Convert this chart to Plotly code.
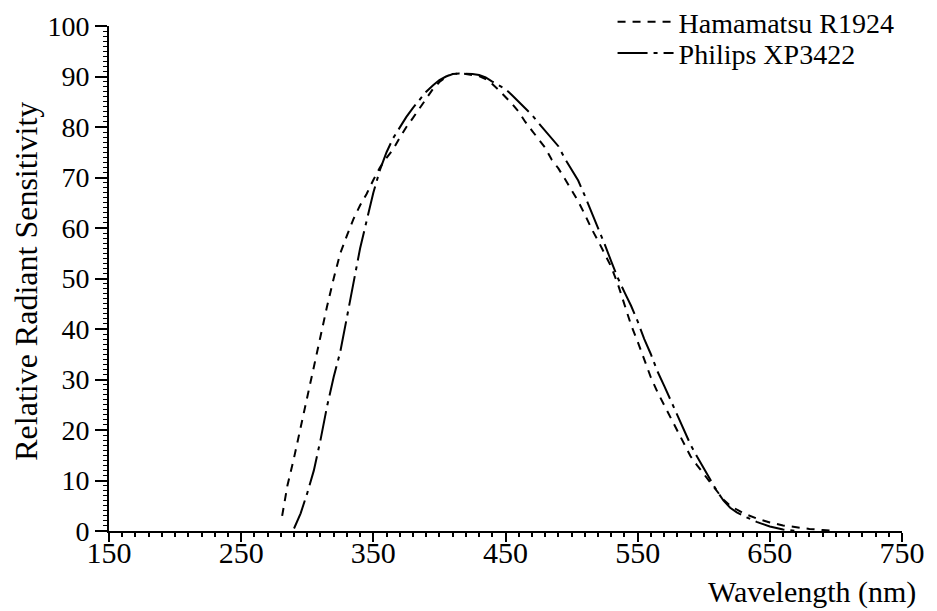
import plotly.graph_objects as go

# Hamamatsu R1924 (short dashes)
ham_wl = [281, 285, 290, 295, 300, 305, 310, 315, 320, 325, 330, 335, 340, 345, 350,
          355, 360, 365, 370, 375, 380, 385, 390, 395, 400, 405, 410, 415, 420, 425,
          430, 435, 440, 445, 450, 455, 460, 465, 470, 475, 480, 485, 490, 495, 500,
          505, 510, 515, 520, 525, 530, 535, 540, 545, 550, 555, 560, 565, 570, 575,
          580, 585, 590, 595, 600, 605, 610, 615, 620, 630, 640, 650, 660, 670, 680,
          690, 700]
ham_val = [3.0, 9.0, 14.5, 20.5, 26.8, 33.0, 38.8, 44.5, 50.0, 55.0, 58.5, 61.8, 64.5, 66.8, 69.5,
           72.0, 73.9, 75.6, 77.9, 80.0, 81.8, 83.7, 85.7, 87.5, 88.9, 89.9, 90.5, 90.6, 90.5, 90.3,
           90.1, 89.5, 88.5, 87.3, 86.0, 84.6, 83.0, 81.0, 79.3, 77.6, 75.9, 73.5, 71.8, 69.7, 67.5,
           65.3, 62.7, 59.9, 57.5, 55.0, 52.3, 48.9, 44.8, 40.8, 37.5, 34.0, 30.4, 27.5, 25.0, 22.4,
           19.8, 17.2, 14.8, 13.0, 11.3, 9.6, 7.8, 6.2, 5.0, 3.5, 2.5, 1.7, 1.1, 0.7, 0.4,
           0.2, 0.0]

# Philips XP3422 (long dash - dot)
phi_wl = [290, 295, 300, 305, 310, 315, 320, 325, 330, 335, 340, 345, 350, 355, 360,
          365, 370, 375, 380, 385, 390, 395, 400, 405, 410, 415, 420, 425, 430, 435,
          440, 445, 450, 455, 460, 465, 470, 475, 480, 485, 490, 495, 500, 505, 510,
          515, 520, 525, 530, 535, 540, 545, 550, 555, 560, 565, 570, 575, 580, 585,
          590, 595, 600, 605, 610, 615, 620, 625, 630, 640, 650, 660, 670]
phi_val = [0.5, 3.5, 7.5, 12.0, 18.0, 24.7, 30.5, 35.5, 42.3, 49.3, 56.0, 61.5, 67.0, 71.5, 75.0,
           77.8, 80.0, 82.0, 83.8, 85.5, 87.0, 88.2, 89.3, 90.0, 90.5, 90.6, 90.6, 90.5, 90.3, 89.8,
           89.0, 88.3, 87.5, 86.3, 85.0, 83.6, 82.4, 80.8, 79.2, 77.8, 76.2, 73.7, 71.6, 69.4, 66.4,
           63.3, 60.0, 56.8, 53.4, 50.1, 47.3, 44.6, 41.5, 38.0, 35.0, 31.6, 28.8, 25.8, 22.8, 19.8,
           17.1, 14.7, 12.5, 10.2, 7.9, 6.0, 4.6, 3.7, 3.0, 1.8, 0.9, 0.3, 0.0]

x_ticks = [150, 250, 350, 450, 550, 650, 750]
y_ticks = [0, 10, 20, 30, 40, 50, 60, 70, 80, 90, 100]

FONT = "Liberation Serif"

fig = go.Figure()
fig.add_trace(go.Scatter(x=ham_wl, y=ham_val, mode="lines", name="Hamamatsu R1924",
                         legend="legend",
                         line=dict(color="black", width=2, dash="8px,7px")))
fig.add_trace(go.Scatter(x=phi_wl, y=phi_val, mode="lines", name="Philips XP3422",
                         legend="legend2",
                         line=dict(color="black", width=2, dash="30px,6px,4px,6px")))

leg_common = dict(xanchor="left", yanchor="middle", bgcolor="rgba(0,0,0,0)",
                  font=dict(family=FONT, size=28, color="black"), itemwidth=56,
                  borderwidth=0)

fig.update_layout(
    width=937, height=611,
    # the page body adds an 8px offset; margins compensate for it
    margin=dict(l=101, r=43, t=18, b=88, autoexpand=False),
    paper_bgcolor="white", plot_bgcolor="white",
    font=dict(family=FONT, color="black", size=28),
    showlegend=True,
    legend=dict(x=0.635, y=1.008, **leg_common),
    legend2=dict(x=0.635, y=0.946, **leg_common),
    xaxis=dict(range=[150, 750], tickvals=x_ticks, ticktext=[str(v) for v in x_ticks],
               showgrid=False, zeroline=False, showline=True, linecolor="black", linewidth=2,
               ticks="outside", ticklen=9, tickwidth=2, tickcolor="black",
               tickfont=dict(family=FONT, size=30), ticklabelstandoff=-15,
               minor=dict(dtick=10, ticks="outside", ticklen=4, tickwidth=1.5, tickcolor="black")),
    yaxis=dict(range=[0, 100], tickvals=y_ticks, ticktext=[str(v) for v in y_ticks],
               showgrid=False, zeroline=False, showline=True, linecolor="black", linewidth=2,
               ticks="outside", ticklen=12, tickwidth=1.5, tickcolor="black",
               tickfont=dict(family=FONT, size=28),
               minor=dict(dtick=1, ticks="outside", ticklen=4, tickwidth=1, tickcolor="black")),
    annotations=[
        dict(text="Relative Radiant Sensitivity", xref="paper", yref="paper",
             x=-0.105, y=0.495, xanchor="center", yanchor="middle", textangle=-90,
             showarrow=False, font=dict(family=FONT, size=32, color="black")),
        dict(text="Wavelength (nm)", xref="paper", yref="paper",
             x=1.02, y=-0.121, xanchor="right", yanchor="middle",
             showarrow=False, font=dict(family=FONT, size=30, color="black")),
    ],
)

fig.write_html("out.html")
